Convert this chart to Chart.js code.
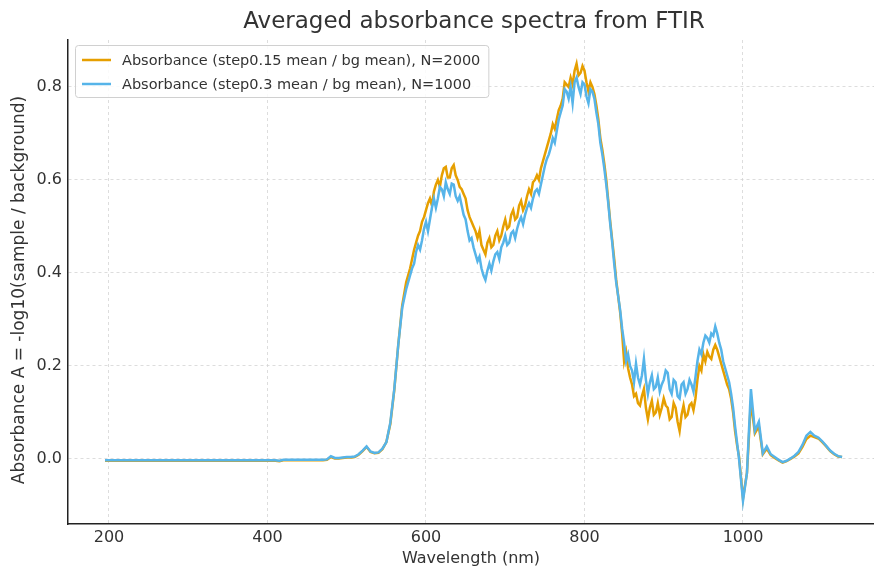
<!DOCTYPE html>
<html>
<head>
<meta charset="utf-8">
<title>Averaged absorbance spectra from FTIR</title>
<script src="https://cdn.jsdelivr.net/npm/chart.js@4.4.1/dist/chart.umd.min.js"></script>
<style>
  html, body { margin: 0; padding: 0; background: #fff; overflow: hidden; }
  #myCanvas { display: block; }
</style>
</head>
<body>
<canvas id="myCanvas" width="874" height="569"></canvas>
<script>
// wavelength (nm): 5 nm steps, 2.5 nm steps through the noisy part (575-997.5)
var wavelengths = [
  195, 200, 205, 210, 215, 220, 225, 230, 235, 240,
  245, 250, 255, 260, 265, 270, 275, 280, 285, 290,
  295, 300, 305, 310, 315, 320, 325, 330, 335, 340,
  345, 350, 355, 360, 365, 370, 375, 380, 385, 390,
  395, 400, 405, 410, 415, 420, 425, 430, 435, 440,
  445, 450, 455, 460, 465, 470, 475, 480, 485, 490,
  495, 500, 505, 510, 515, 520, 525, 530, 535, 540,
  545, 550, 555, 560, 565, 570,
  575, 577.5, 580, 582.5, 585, 587.5, 590, 592.5, 595, 597.5,
  600, 602.5, 605, 607.5, 610, 612.5, 615, 617.5, 620, 622.5,
  625, 627.5, 630, 632.5, 635, 637.5, 640, 642.5, 645, 647.5,
  650, 652.5, 655, 657.5, 660, 662.5, 665, 667.5, 670, 672.5,
  675, 677.5, 680, 682.5, 685, 687.5, 690, 692.5, 695, 697.5,
  700, 702.5, 705, 707.5, 710, 712.5, 715, 717.5, 720, 722.5,
  725, 727.5, 730, 732.5, 735, 737.5, 740, 742.5, 745, 747.5,
  750, 752.5, 755, 757.5, 760, 762.5, 765, 767.5, 770, 772.5,
  775, 777.5, 780, 782.5, 785, 787.5, 790, 792.5, 795, 797.5,
  800, 802.5, 805, 807.5, 810, 812.5, 815, 817.5, 820, 822.5,
  825, 827.5, 830, 832.5, 835, 837.5, 840, 842.5, 845, 847.5,
  850, 852.5, 855, 857.5, 860, 862.5, 865, 867.5, 870, 872.5,
  875, 877.5, 880, 882.5, 885, 887.5, 890, 892.5, 895, 897.5,
  900, 902.5, 905, 907.5, 910, 912.5, 915, 917.5, 920, 922.5,
  925, 927.5, 930, 932.5, 935, 937.5, 940, 942.5, 945, 947.5,
  950, 952.5, 955, 957.5, 960, 962.5, 965, 967.5, 970, 972.5,
  975, 977.5, 980, 982.5, 985, 987.5, 990, 992.5, 995, 997.5,
  1000, 1005, 1010, 1015, 1020, 1025, 1030, 1035, 1040,
  1045, 1050, 1055, 1060, 1065, 1070, 1075, 1080, 1085, 1090,
  1095, 1100, 1105, 1110, 1115, 1120, 1125
];

// step 0.15, N=2000 (orange)
var absStep015 = [
  -0.004, -0.004, -0.004, -0.004, -0.004, -0.004, -0.004, -0.004, -0.004, -0.004,
  -0.004, -0.004, -0.004, -0.004, -0.004, -0.004, -0.004, -0.004, -0.004, -0.004,
  -0.004, -0.004, -0.004, -0.004, -0.004, -0.004, -0.004, -0.004, -0.004, -0.004,
  -0.004, -0.004, -0.004, -0.004, -0.004, -0.004, -0.004, -0.004, -0.004, -0.004,
  -0.004, -0.004, -0.004, -0.004, -0.005, -0.003, -0.003, -0.003, -0.003, -0.003,
  -0.003, -0.003, -0.003, -0.003, -0.003, -0.003, -0.002, 0.004, 0.001, 0.001,
  0.002, 0.003, 0.003, 0.004, 0.009, 0.017, 0.026, 0.015, 0.012, 0.013,
  0.021, 0.036, 0.075, 0.148, 0.245, 0.33,
  0.38, 0.395, 0.41, 0.43, 0.45, 0.465, 0.48, 0.49, 0.51, 0.52,
  0.535, 0.55, 0.56, 0.545, 0.575, 0.59, 0.60, 0.585, 0.61, 0.625,
  0.628, 0.605, 0.605, 0.625, 0.632, 0.61, 0.60, 0.585, 0.58, 0.57,
  0.56, 0.535, 0.52, 0.51, 0.50, 0.49, 0.475, 0.49, 0.46, 0.45,
  0.44, 0.465, 0.475, 0.455, 0.46, 0.48, 0.49, 0.47, 0.48, 0.50,
  0.515, 0.495, 0.50, 0.525, 0.535, 0.515, 0.52, 0.545, 0.555, 0.535,
  0.545, 0.565, 0.58, 0.57, 0.595, 0.60, 0.61, 0.60, 0.625, 0.64,
  0.655, 0.67, 0.685, 0.70, 0.72, 0.71, 0.73, 0.75, 0.76, 0.775,
  0.81, 0.805, 0.80, 0.82, 0.805, 0.835, 0.85, 0.825, 0.83, 0.845,
  0.835, 0.81, 0.79, 0.81, 0.80, 0.785, 0.76, 0.73, 0.69, 0.665,
  0.635, 0.60, 0.555, 0.51, 0.47, 0.43, 0.385, 0.35, 0.315, 0.27,
  0.21, 0.23, 0.195, 0.175, 0.16, 0.135, 0.14, 0.12, 0.115, 0.135,
  0.15, 0.11, 0.085, 0.11, 0.125, 0.095, 0.10, 0.12, 0.095, 0.11,
  0.13, 0.115, 0.11, 0.085, 0.09, 0.12, 0.11, 0.08, 0.06, 0.095,
  0.115, 0.09, 0.095, 0.115, 0.12, 0.105, 0.13, 0.17, 0.20, 0.19,
  0.225, 0.21, 0.23, 0.22, 0.215, 0.235, 0.245, 0.235, 0.22, 0.205,
  0.19, 0.175, 0.16, 0.15, 0.13, 0.10, 0.06, 0.03, 0.005, -0.04,
  -0.085, -0.03, 0.125, 0.055, 0.07, 0.01, 0.022, 0.008, 0.002,
  -0.003, -0.008, -0.005, 0.0, 0.005, 0.012, 0.026, 0.043, 0.05, 0.047,
  0.044, 0.036, 0.027, 0.017, 0.01, 0.005, 0.004
];

// step 0.3, N=1000 (blue)
var absStep03 = [
  -0.003, -0.003, -0.003, -0.003, -0.003, -0.003, -0.003, -0.003, -0.003, -0.003,
  -0.003, -0.003, -0.003, -0.003, -0.003, -0.003, -0.003, -0.003, -0.003, -0.003,
  -0.003, -0.003, -0.003, -0.003, -0.003, -0.003, -0.003, -0.003, -0.003, -0.003,
  -0.003, -0.003, -0.003, -0.003, -0.003, -0.003, -0.003, -0.003, -0.003, -0.003,
  -0.003, -0.003, -0.003, -0.003, -0.004, -0.002, -0.002, -0.002, -0.002, -0.002,
  -0.002, -0.002, -0.002, -0.002, -0.002, -0.002, -0.001, 0.006, 0.002, 0.002,
  0.003, 0.004, 0.004, 0.005, 0.01, 0.018, 0.027, 0.016, 0.013, 0.014,
  0.022, 0.036, 0.078, 0.15, 0.245, 0.325,
  0.365, 0.38, 0.395, 0.41, 0.42, 0.445, 0.46, 0.45, 0.47, 0.495,
  0.51, 0.49, 0.515, 0.54, 0.56, 0.54, 0.56, 0.585, 0.58, 0.565,
  0.595, 0.58, 0.57, 0.592, 0.59, 0.565, 0.555, 0.565, 0.545, 0.525,
  0.515, 0.49, 0.47, 0.475, 0.455, 0.44, 0.425, 0.435, 0.41, 0.395,
  0.385, 0.405, 0.42, 0.405, 0.425, 0.44, 0.445, 0.43, 0.455, 0.465,
  0.48, 0.46, 0.465, 0.485, 0.49, 0.475, 0.495, 0.51, 0.52, 0.505,
  0.525, 0.54, 0.55, 0.54, 0.56, 0.575, 0.58, 0.57, 0.59, 0.61,
  0.63, 0.645, 0.655, 0.67, 0.69, 0.68, 0.705, 0.73, 0.745, 0.76,
  0.795, 0.79, 0.775, 0.80, 0.765, 0.81, 0.82, 0.80, 0.785, 0.81,
  0.805, 0.78, 0.765, 0.795, 0.79, 0.775, 0.745, 0.72, 0.68, 0.655,
  0.625, 0.59, 0.55, 0.505, 0.465, 0.42, 0.38, 0.35, 0.32, 0.28,
  0.25, 0.21, 0.225, 0.20, 0.19, 0.165, 0.205, 0.175, 0.16, 0.18,
  0.215, 0.17, 0.14, 0.165, 0.18, 0.15, 0.155, 0.175, 0.145, 0.16,
  0.17, 0.19, 0.185, 0.15, 0.14, 0.17, 0.165, 0.135, 0.13, 0.16,
  0.165, 0.14, 0.15, 0.17, 0.16, 0.145, 0.175, 0.21, 0.235, 0.225,
  0.25, 0.265, 0.26, 0.25, 0.27, 0.265, 0.285, 0.27, 0.25, 0.235,
  0.21, 0.195, 0.18, 0.165, 0.14, 0.11, 0.07, 0.035, 0.0, -0.045,
  -0.09, -0.03, 0.15, 0.06, 0.08, 0.012, 0.027, 0.01, 0.004,
  -0.002, -0.007, -0.004, 0.001, 0.007, 0.015, 0.03, 0.05, 0.058, 0.05,
  0.046, 0.038, 0.028, 0.018, 0.011, 0.006, 0.004
];

var xTicks = [200, 400, 600, 800, 1000];
var yTicks = [0.0, 0.2, 0.4, 0.6, 0.8];

var titol = "Averaged absorbance spectra from FTIR";
var titolY = "Absorbance A = -log10(sample / background)";
var labelOrange = "Absorbance (step0.15 mean / bg mean), N=2000";
var labelBlue = "Absorbance (step0.3 mean / bg mean), N=1000";

function punts(ys) {
    var out = [];
    for (var i = 0; i < wavelengths.length; i++) {
        out.push({ x: wavelengths[i], y: ys[i] });
    }
    return out;
}

// title centred over the axes, y title, legend box inside the plot (matplotlib look)
var titolILlegenda = {
    id: "titolILlegenda",
    afterDatasetsDraw: function (chart) {
        var ctx = chart.ctx;
        var area = chart.chartArea;
        var sets = chart.data.datasets;
        ctx.save();

        ctx.font = "23px 'DejaVu Sans'";
        ctx.fillStyle = "#333";
        ctx.textAlign = "center";
        ctx.textBaseline = "middle";
        ctx.fillText(titol, (area.left + area.right) / 2 + 3, 22);

        ctx.save();
        ctx.font = "17px 'DejaVu Sans'";
        ctx.translate(20, 290);
        ctx.rotate(-Math.PI / 2);
        ctx.fillText(titolY, 0, 0);
        ctx.restore();

        ctx.textAlign = "left";
        ctx.font = "14.5px 'DejaVu Sans'";
        var w = 0;
        for (var i = 0; i < sets.length; i++) {
            w = Math.max(w, ctx.measureText(sets[i].label).width);
        }
        var x0 = area.left + 7, y0 = area.top + 5;
        var bw = w + 55, bh = 52;
        ctx.fillStyle = "rgba(255,255,255,0.85)";
        ctx.strokeStyle = "#d0d0d0";
        ctx.lineWidth = 1;
        ctx.beginPath();
        ctx.roundRect(x0 + 0.5, y0 + 0.5, bw, bh, 3);
        ctx.fill();
        ctx.stroke();
        for (var j = 0; j < sets.length; j++) {
            var yy = y0 + 15 + j * 24;
            ctx.strokeStyle = sets[j].borderColor;
            ctx.lineWidth = 2.5;
            ctx.beginPath();
            ctx.moveTo(x0 + 7, yy);
            ctx.lineTo(x0 + 36, yy);
            ctx.stroke();
            ctx.fillStyle = "#333";
            ctx.fillText(sets[j].label, x0 + 47, yy + 1);
        }
        ctx.restore();
    }
};

var ctx = document.getElementById("myCanvas");

var grafic = new Chart(ctx, {
    type: "line",
    data: {
        datasets: [{
            label: labelOrange,
            data: punts(absStep015),
            borderColor: "#E69F00",
            backgroundColor: "#E69F00",
            borderWidth: 2.5,
            pointRadius: 0,
            order: 1
        }, {
            label: labelBlue,
            data: punts(absStep03),
            borderColor: "#56B4E9",
            backgroundColor: "#56B4E9",
            borderWidth: 2.5,
            pointRadius: 0,
            order: 0
        }]
    },
    plugins: [titolILlegenda],
    options: {
        responsive: false,
        animation: false,
        events: [],
        layout: { padding: { left: 0, right: 0, top: 40, bottom: 0 } },
        plugins: {
            legend: { display: false },
            tooltip: { enabled: false },
            title: { display: false }
        },
        scales: {
            x: {
                type: "linear",
                min: 148.3,
                max: 1165.3,
                afterBuildTicks: function (scale) {
                    scale.ticks = xTicks.map(function (v) { return { value: v }; });
                },
                afterFit: function (scale) { scale.height = 45; },
                ticks: {
                    color: "#333",
                    padding: 4,
                    font: { family: "'DejaVu Sans'", size: 16 },
                    maxRotation: 0,
                    callback: function (v) { return String(v); }
                },
                grid: { color: "#d5d5d5", lineWidth: 0.8, drawTicks: false },
                border: { display: true, color: "#222", width: 1.5, dash: [3, 3] },
                title: {
                    display: true,
                    text: "Wavelength (nm)",
                    color: "#333",
                    font: { family: "'DejaVu Sans'", size: 16 },
                    padding: { top: 0, bottom: 1 }
                }
            },
            y: {
                min: -0.14,
                max: 0.901,
                afterBuildTicks: function (scale) {
                    scale.ticks = yTicks.map(function (v) { return { value: v }; });
                },
                afterFit: function (scale) { scale.width = 68; },
                ticks: {
                    color: "#333",
                    padding: 6,
                    font: { family: "'DejaVu Sans'", size: 16 },
                    callback: function (v) { return Number(v).toFixed(1); }
                },
                grid: { color: "#d5d5d5", lineWidth: 0.8, drawTicks: false },
                border: { display: true, color: "#222", width: 1.5, dash: [3, 3] }
            }
        }
    }
});
</script>
</body>
</html>
